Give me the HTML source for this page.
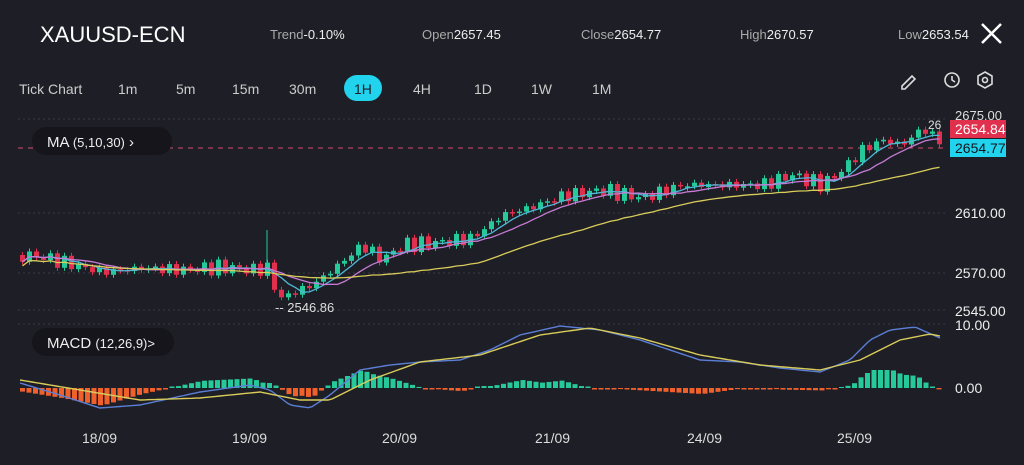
<!DOCTYPE html><html><head><meta charset="utf-8"><style>
body{margin:0;background:#1e1e26;width:1024px;height:465px;overflow:hidden;font-family:"Liberation Sans",sans-serif;color:#ddd}
svg{position:absolute;left:0;top:0}
</style></head><body>
<svg id="s" width="1024" height="465" xmlns="http://www.w3.org/2000/svg">
<rect width="1024" height="465" fill="#1e1e26"/>
<text x="40" y="42" fill="#fff" font-size="22">XAUUSD-ECN</text>
<g font-size="13" fill="#aaa"><text x="270" y="39">Trend<tspan fill="#eee">-0.10%</tspan></text>
<text x="422" y="39">Open<tspan fill="#eee">2657.45</tspan></text>
<text x="581" y="39">Close<tspan fill="#eee">2654.77</tspan></text>
<text x="740" y="39">High<tspan fill="#eee">2670.57</tspan></text>
<text x="898" y="39">Low<tspan fill="#eee">2653.54</tspan></text></g>
<path d="M982 24L1001 43M1001 24L982 43" stroke="#fff" stroke-width="2.5"/>
<g font-size="14" fill="#ccc"><text x="19" y="94">Tick Chart</text><text x="118" y="94">1m</text><text x="176" y="94">5m</text><text x="232" y="94">15m</text><text x="289" y="94">30m</text>
<rect x="344" y="75" width="38" height="26" rx="13" fill="#22d3ee"/><text x="354" y="94" fill="#1e1e26">1H</text>
<text x="413" y="94">4H</text><text x="474" y="94">1D</text><text x="531" y="94">1W</text><text x="592" y="94">1M</text></g>
<g stroke="#ddd" stroke-width="1.6" fill="none"><path d="M902 86l10-10 3 3-10 10h-3z"/><circle cx="952" cy="80" r="7"/><path d="M952 76v4l3 2"/><path d="M985 72l7 4v8l-7 4-7-4v-8z"/><circle cx="985" cy="80" r="2.5"/></g>
<g stroke="#3a3a46" stroke-dasharray="2,3"><line x1="18" y1="119" x2="945" y2="119"/><line x1="18" y1="213" x2="945" y2="213"/><line x1="18" y1="273" x2="945" y2="273"/><line x1="18" y1="310" x2="945" y2="310"/><line x1="18" y1="324" x2="945" y2="324"/></g>
<line x1="18" y1="148" x2="945" y2="148" stroke="#d0506a" stroke-dasharray="5,5"/>
<g id="c"></g>
<rect x="32" y="127" width="140" height="28" rx="14" fill="#15151b"/>
<text x="47" y="147" font-size="15" fill="#eee">MA <tspan font-size="13">(5,10,30)</tspan>  ›</text>
<rect x="32" y="328" width="142" height="28" rx="14" fill="#15151b"/>
<text x="47" y="348" font-size="15" fill="#eee">MACD <tspan font-size="13">(12,26,9)&gt;</tspan></text>
<text x="928" y="129" font-size="12" fill="#ddd">26</text>
<text x="955" y="120" font-size="13" fill="#ddd">2675.00</text>
<rect x="950" y="120" width="56" height="18" fill="#e0304e"/><text x="955" y="134" font-size="14" fill="#fff">2654.84</text>
<rect x="950" y="139" width="56" height="18" fill="#22d3ee"/><text x="955" y="153" font-size="14" fill="#15151b">2654.77</text>
<g font-size="14" fill="#eee"><text x="955" y="218">2610.00</text><text x="955" y="278">2570.00</text><text x="955" y="316">2545.00</text><text x="955" y="330">10.00</text><text x="955" y="393">0.00</text></g>
<text x="275" y="312" font-size="13" fill="#ddd">-- 2546.86</text>
<g font-size="14" fill="#ddd"><text x="82" y="443">18/09</text><text x="232" y="443">19/09</text><text x="382" y="443">20/09</text><text x="535" y="443">21/09</text><text x="687" y="443">24/09</text><text x="837" y="443">25/09</text></g>
</svg>
<script>
var P=[[20,255],[40,257],[60,262],[100,272],[140,268],[180,270],[220,267],[250,270],[268,268],[275,300],[290,293],[310,285],[330,270],[360,245],[380,260],[400,245],[440,242],[470,238],[500,215],[530,207],[560,196],[600,190],[640,198],[680,185],[720,185],[760,185],[790,175],[820,185],[840,170],[860,150],[880,140],[900,145],[915,132],[925,130],[940,145]];
function f(x,A){for(var i=1;i<A.length;i++)if(x<=A[i][0]){var a=A[i-1],b=A[i];return a[1]+(b[1]-a[1])*(x-a[0])/(b[0]-a[0]);}return A[A.length-1][1];}
var g="",cl=[],xs=[],prev=f(20,P);
for(var x=20;x<=940;x+=7){var c=f(x,P)+5*Math.sin(x*0.37)+3*Math.sin(x*1.3);var o=prev;var up=c<o;var col=up?"#26c99a":"#e0304e";var t=Math.min(o,c),h=Math.max(Math.abs(c-o),1.5);g+='<line x1="'+(x+2.5)+'" y1="'+(t-3)+'" x2="'+(x+2.5)+'" y2="'+(t+h+3)+'" stroke="'+col+'"/><rect x="'+x+'" y="'+t+'" width="5" height="'+h+'" fill="'+col+'"/>';cl.push(c);xs.push(x+2.5);prev=c;}
g+='<line x1="267" y1="230" x2="267" y2="265" stroke="#26c99a"/>';
function ma(n,col){var d="";for(var i=0;i<cl.length;i++){var s=0,k=0;for(var j=Math.max(0,i-n+1);j<=i;j++){s+=cl[j];k++;}d+=(i?"L":"M")+xs[i]+" "+(s/k+(n==30?4:0)).toFixed(1);}return '<path d="'+d+'" fill="none" stroke="'+col+'" stroke-width="1.3"/>';}
g+=ma(5,"#4fb8d8")+ma(10,"#c77bd6")+ma(30,"#d8cc5a");
var M=[[20,383],[60,395],[100,408],[140,405],[200,392],[250,385],[270,390],[290,405],[310,408],[330,395],[360,370],[390,365],[420,362],[460,360],[490,350],[520,335],[560,326],[600,330],[640,340],[670,350],[700,360],[740,362],[780,368],[820,372],[850,360],[870,340],[890,330],[915,327],[940,338]];
var S=[[20,380],[80,390],[140,400],[200,398],[260,392],[300,400],[330,400],[370,380],[420,362],[480,355],[540,335],[590,328],[640,338],[700,355],[760,365],[820,370],[860,360],[900,340],[930,334],[940,336]];
var dm="",ds="";for(var x=20;x<=940;x+=4){dm+=(x>20?"L":"M")+x+" "+f(x,M).toFixed(1);ds+=(x>20?"L":"M")+x+" "+f(x,S).toFixed(1);}
for(var x=20;x<=940;x+=6.5){var h=(f(x,S)-f(x,M))*1.2;var col=h>0?"#26c99a":"#f0602a";if(Math.abs(h)<1)h=h>0?1.5:-1.5;g+='<rect x="'+x+'" y="'+(h>0?388-h:388)+'" width="5" height="'+Math.abs(h)+'" fill="'+col+'"/>';}
g+='<path d="'+dm+'" fill="none" stroke="#5b7fd6" stroke-width="1.4"/><path d="'+ds+'" fill="none" stroke="#d8cc5a" stroke-width="1.4"/>';
document.getElementById("c").innerHTML=g;
</script>
</body></html>
